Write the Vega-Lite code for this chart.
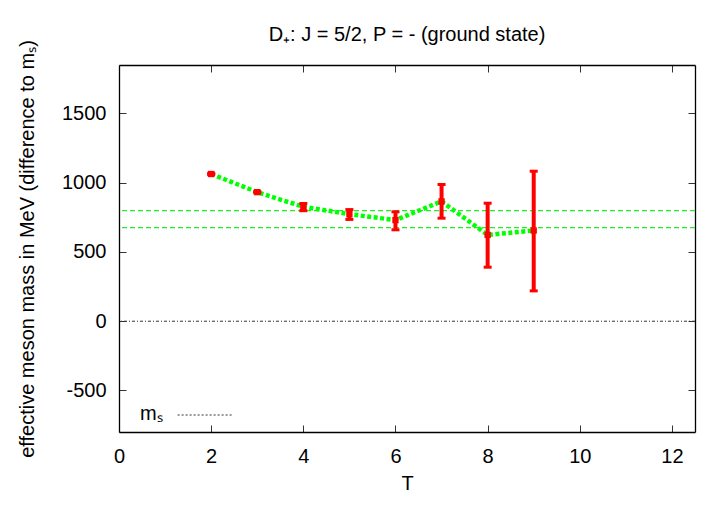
{
  "$schema": "https://vega.github.io/schema/vega-lite/v6.json",
  "width": 576,
  "height": 367,
  "autosize": {"type": "none"},
  "padding": {"left": 119, "top": 65, "right": 25, "bottom": 76},
  "background": "white",
  "title": {"text": "D₊: J = 5/2, P = - (ground state)", "fontSize": 20, "font": "Liberation Sans", "fontWeight": "normal", "color": "#000", "offset": -5, "anchor": "middle", "frame": "group"},
  "config": {
    "view": {"stroke": null},
    "axis": {"domainColor": "#000", "domainWidth": 1.3, "tickColor": "#333", "tickSize": -7, "tickWidth": 1, "labelFont": "Liberation Sans", "labelFontSize": 20, "labelColor": "#000", "titleFont": "Liberation Sans", "titleFontSize": 20, "titleFontWeight": "normal", "titleColor": "#000", "grid": false, "labelFlush": false, "labelExpr": "datum.value + ''"}
  },
  "datasets": {
    "meff": [
      {"T": 2, "m": 1063, "lo": 1058, "hi": 1068},
      {"T": 3, "m": 932, "lo": 927, "hi": 937},
      {"T": 4, "m": 826, "lo": 798, "hi": 850},
      {"T": 5, "m": 773, "lo": 735, "hi": 806},
      {"T": 6, "m": 730, "lo": 660, "hi": 790},
      {"T": 7, "m": 865, "lo": 744, "hi": 987},
      {"T": 8, "m": 623, "lo": 390, "hi": 852},
      {"T": 9, "m": 655, "lo": 219, "hi": 1083}
    ],
    "fit": [{"m": 676}, {"m": 799}]
  },
  "resolve": {"axis": {"x": "independent", "y": "independent"}},
  "layer": [
    {
      "data": {"values": [{}]},
      "mark": {"type": "rule", "strokeWidth": 1, "strokeDash": [3, 2, 1, 2]},
      "encoding": {
        "y": {"datum": 0, "type": "quantitative", "axis": null},
        "color": {"datum": "mₛ", "scale": {"range": ["#333"]}, "legend": {"orient": "none", "legendX": 21, "legendY": 322, "title": "mₛ", "titleOrient": "left", "titleAnchor": "middle", "titleBaseline": "top", "titleFontSize": 20, "titleFont": "Liberation Sans", "titleFontWeight": "normal", "titleColor": "#000", "titlePadding": 14, "labelExpr": "''", "symbolType": "stroke", "symbolSize": 3000, "symbolStrokeWidth": 1, "symbolDash": [2, 2], "padding": 0, "encode": {"symbols": {"update": {"stroke": {"value": "#888"}}}}}}
      }
    },
    {
      "data": {"name": "fit"},
      "mark": {"type": "rule", "color": "#22ee22", "strokeWidth": 1.3, "strokeDash": [5, 3]},
      "encoding": {"y": {"field": "m", "type": "quantitative", "axis": null}}
    },
    {
      "data": {"name": "meff"},
      "mark": {"type": "line", "color": "#00ff00", "strokeWidth": 4.5, "strokeDash": [4, 2.5]},
      "encoding": {
        "x": {"field": "T", "type": "quantitative", "axis": {"orient": "top", "values": [0, 2, 4, 6, 8, 10, 12], "labels": false, "title": null}},
        "y": {"field": "m", "type": "quantitative", "axis": {"orient": "right", "values": [-500, 0, 500, 1000, 1500], "labels": false, "title": null}}
      }
    },
    {
      "data": {"name": "meff"},
      "mark": {"type": "rule", "color": "#ff0000", "strokeWidth": 4},
      "encoding": {
        "x": {"field": "T", "type": "quantitative", "axis": null},
        "y": {"field": "lo", "type": "quantitative", "axis": null},
        "y2": {"field": "hi"}
      }
    },
    {
      "data": {"name": "meff"},
      "mark": {"type": "tick", "orient": "horizontal", "color": "#ff0000", "size": 8, "thickness": 3, "opacity": 1},
      "encoding": {
        "x": {"field": "T", "type": "quantitative", "axis": null},
        "y": {"field": "lo", "type": "quantitative", "axis": null}
      }
    },
    {
      "data": {"name": "meff"},
      "mark": {"type": "tick", "orient": "horizontal", "color": "#ff0000", "size": 8, "thickness": 3, "opacity": 1},
      "encoding": {
        "x": {"field": "T", "type": "quantitative", "axis": null},
        "y": {"field": "hi", "type": "quantitative", "axis": null}
      }
    },
    {
      "data": {"name": "meff"},
      "mark": {"type": "square", "color": "#ff0000", "size": 40, "filled": true, "opacity": 1},
      "encoding": {
        "x": {"field": "T", "type": "quantitative", "scale": {"domain": [0, 12.5], "nice": false, "zero": false}, "axis": {"orient": "bottom", "values": [0, 2, 4, 6, 8, 10, 12], "title": "T", "labelPadding": 21, "titlePadding": 7}},
        "y": {"field": "m", "type": "quantitative", "scale": {"domain": [-800, 1850], "nice": false, "zero": false}, "axis": {"orient": "left", "values": [-500, 0, 500, 1000, 1500], "title": "effective meson mass in MeV (difference to mₛ)", "labelPadding": 20, "titlePadding": 24}}
      }
    }
  ]
}
